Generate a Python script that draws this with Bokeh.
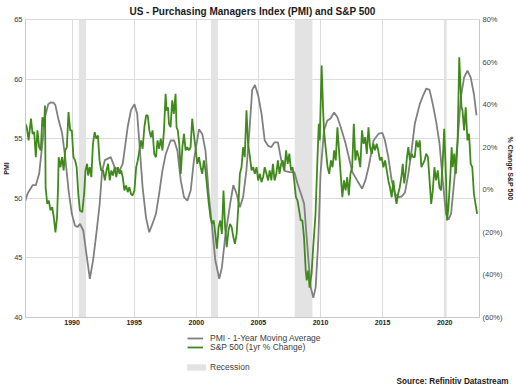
from bokeh.plotting import figure
from bokeh.layouts import column
from bokeh.models import Range1d, LinearAxis, FixedTicker, Legend, LegendItem
from bokeh.embed import file_html
from bokeh.resources import INLINE

# ---------------- data ----------------
pmi_year = [1986.24, 1986.42, 1986.82, 1987.08, 1987.35, 1987.61, 1987.82, 1988.08, 1988.3, 1988.53,
            1988.66, 1988.93, 1989.19, 1989.45, 1989.72, 1989.98, 1990.24, 1990.45, 1990.64, 1990.9,
            1991.16, 1991.43, 1991.69, 1991.95, 1992.22, 1992.42, 1992.64, 1993.11, 1993.43, 1993.82,
            1994.08, 1994.48, 1994.74, 1995.02, 1995.24, 1995.42, 1995.68, 1995.95, 1996.21, 1996.47,
            1996.75, 1997.01, 1997.27, 1997.54, 1997.93, 1998.22, 1998.48, 1998.75, 1999.01, 1999.28,
            1999.55, 1999.81, 2000.22, 2000.48, 2000.74, 2001.0, 2001.27, 2001.53, 2001.85, 2002.06,
            2002.32, 2002.72, 2002.98, 2003.24, 2003.51, 2003.77, 2004.03, 2004.3, 2004.5, 2004.72,
            2004.99, 2005.25, 2005.51, 2005.78, 2006.04, 2006.3, 2006.57, 2006.84, 2007.1, 2007.5,
            2007.89, 2008.16, 2008.42, 2008.68, 2008.82, 2009.03, 2009.21, 2009.42, 2009.61, 2009.82,
            2010.0, 2010.28, 2010.54, 2010.8, 2011.1, 2011.36, 2011.62, 2012.02, 2012.28, 2012.56,
            2012.95, 2013.35, 2013.61, 2013.87, 2014.27, 2014.66, 2014.98, 2015.19, 2015.46, 2015.73,
            2015.99, 2016.25, 2016.54, 2016.8, 2017.07, 2017.33, 2017.59, 2017.99, 2018.25, 2018.51,
            2018.78, 2019.04, 2019.3, 2019.58, 2019.84, 2020.1, 2020.3, 2020.51, 2020.77, 2021.04,
            2021.3, 2021.56, 2021.83, 2022.09, 2022.35, 2022.56]
pmi_value = [49.8, 50.4, 51.1, 51.1, 52.05, 54.6, 56.8, 57.9, 58.05, 58.0,
             57.8, 56.5, 55.5, 53.4, 50.65, 48.7, 47.7, 47.6, 47.85, 47.3,
             45.3, 43.25, 44.8, 47.0, 49.5, 52.3, 53.2, 53.45, 52.6, 52.3,
             52.9, 56.0, 57.4, 57.9, 57.1, 54.6, 50.9, 48.4, 47.15, 47.85,
             48.7, 50.4, 52.3, 53.7, 54.85, 54.85, 54.0, 51.5, 50.1, 49.8,
             50.65, 53.2, 55.8, 55.4, 54.0, 50.4, 47.6, 44.8, 43.25, 44.2,
             46.7, 49.5, 51.1, 50.4, 49.25, 50.1, 52.3, 56.0, 59.1, 59.5,
             58.6, 57.1, 54.85, 54.4, 54.3, 54.7, 54.7, 53.2, 52.3, 52.2,
             52.2, 51.2, 50.4, 49.55, 47.6, 44.8, 42.55, 41.65, 42.55, 46.45,
             52.05, 55.7, 56.5, 56.7, 57.2, 56.8, 56.0, 54.6, 53.45, 52.2,
             51.5, 50.8, 51.5, 52.6, 54.85, 55.4, 55.5, 54.85, 53.45, 51.5,
             50.4, 50.1, 50.15, 50.5, 52.05, 54.0, 56.25, 57.9, 58.6, 59.2,
             59.1, 57.9, 56.5, 54.6, 51.5, 48.7, 48.2, 48.7, 51.5, 54.85,
             58.5, 60.15, 60.7, 60.15, 58.75, 56.95]

spx_year = [1986.24, 1986.35, 1986.5, 1986.69, 1986.82, 1986.95, 1987.08, 1987.21, 1987.35, 1987.48,
            1987.61, 1987.74, 1987.82, 1987.87, 1988.0, 1988.13, 1988.26, 1988.4, 1988.53, 1988.66,
            1988.79, 1988.87, 1988.92, 1989.06, 1989.19, 1989.32, 1989.45, 1989.58, 1989.71, 1989.85,
            1989.98, 1990.11, 1990.24, 1990.37, 1990.5, 1990.63, 1990.82, 1990.97, 1991.08, 1991.21,
            1991.29, 1991.42, 1991.55, 1991.68, 1991.82, 1991.95, 1992.08, 1992.21, 1992.34, 1992.5,
            1992.64, 1992.77, 1992.9, 1993.03, 1993.16, 1993.29, 1993.43, 1993.56, 1993.69, 1993.82,
            1993.95, 1994.08, 1994.21, 1994.35, 1994.48, 1994.61, 1994.74, 1994.87, 1995.02, 1995.16,
            1995.29, 1995.42, 1995.55, 1995.68, 1995.82, 1995.96, 1996.09, 1996.22, 1996.35, 1996.48,
            1996.61, 1996.75, 1996.88, 1997.01, 1997.14, 1997.27, 1997.4, 1997.53, 1997.61, 1997.72,
            1997.8, 1997.93, 1998.06, 1998.19, 1998.33, 1998.41, 1998.51, 1998.63, 1998.75, 1998.88,
            1999.01, 1999.14, 1999.27, 1999.4, 1999.54, 1999.67, 1999.8, 1999.93, 2000.08, 2000.22,
            2000.35, 2000.48, 2000.61, 2000.74, 2000.87, 2001.01, 2001.14, 2001.27, 2001.4, 2001.53,
            2001.66, 2001.8, 2001.93, 2002.06, 2002.19, 2002.32, 2002.45, 2002.59, 2002.72, 2002.85,
            2002.98, 2003.11, 2003.25, 2003.38, 2003.51, 2003.64, 2003.77, 2003.9, 2004.04, 2004.17,
            2004.32, 2004.45, 2004.58, 2004.71, 2004.85, 2004.98, 2005.12, 2005.25, 2005.38, 2005.51,
            2005.65, 2005.78, 2005.91, 2006.04, 2006.17, 2006.3, 2006.44, 2006.57, 2006.7, 2006.83,
            2006.96, 2007.09, 2007.23, 2007.36, 2007.49, 2007.62, 2007.75, 2007.88, 2008.02, 2008.15,
            2008.28, 2008.41, 2008.54, 2008.67, 2008.81, 2008.89, 2009.02, 2009.12, 2009.28, 2009.41,
            2009.6, 2009.73, 2009.81, 2009.86, 2009.94, 2010.09, 2010.2, 2010.28, 2010.41, 2010.57,
            2010.7, 2010.84, 2010.97, 2011.1, 2011.23, 2011.36, 2011.49, 2011.62, 2011.76, 2011.89,
            2012.02, 2012.15, 2012.28, 2012.41, 2012.55, 2012.68, 2012.81, 2012.94, 2013.07, 2013.2,
            2013.34, 2013.47, 2013.6, 2013.73, 2013.86, 2013.99, 2014.13, 2014.26, 2014.39, 2014.52,
            2014.65, 2014.78, 2014.92, 2015.06, 2015.2, 2015.33, 2015.46, 2015.59, 2015.73, 2015.86,
            2015.99, 2016.12, 2016.25, 2016.38, 2016.51, 2016.62, 2016.74, 2016.85, 2016.96, 2017.07,
            2017.2, 2017.33, 2017.46, 2017.59, 2017.72, 2017.86, 2017.99, 2018.12, 2018.25, 2018.38,
            2018.51, 2018.65, 2018.78, 2018.91, 2019.04, 2019.17, 2019.3, 2019.44, 2019.57, 2019.7,
            2019.83, 2019.96, 2020.11, 2020.19, 2020.3, 2020.46, 2020.56, 2020.64, 2020.77, 2020.9,
            2021.04, 2021.17, 2021.25, 2021.35, 2021.43, 2021.56, 2021.69, 2021.83, 2021.96, 2022.09,
            2022.22, 2022.35, 2022.48, 2022.61]
spx_change = [31.0, 29.4, 23.2, 33.4, 26.3, 27.1, 15.3, 27.9, 20.0, 18.5,
              34.1, 29.4, 39.6, 1.2, -6.6, -5.1, -9.7, -8.2, -12.9, -20.0,
              -12.9, 1.2, 15.3, 10.6, 15.3, 9.1, 18.5, 20.0, 36.5, 27.9,
              27.9, 15.3, 13.8, 10.6, -1.9, -9.7, -10.5, -1.9, 9.1, 12.2,
              6.7, 10.6, 5.9, 21.6, 27.1, 24.0, 25.5, 13.8, 9.1, 9.1,
              4.4, 9.1, 12.2, 4.4, 9.1, 6.7, 10.6, 5.9, 10.6, 7.5,
              9.1, 5.9, -0.3, 2.0, -1.1, 1.2, -1.9, -2.7, -0.3, 10.6,
              13.8, 18.5, 23.2, 19.3, 29.4, 34.9, 34.9, 27.9, 24.7, 27.9,
              16.9, 15.3, 23.2, 19.3, 24.0, 18.5, 27.9, 45.1, 37.3, 38.8,
              31.0, 29.4, 42.0, 35.7, 45.1, 29.4, 27.9, 21.6, 7.5, 20.0,
              26.3, 18.5, 20.0, 18.5, 20.0, 33.4, 26.3, 20.0, 12.2, 15.3,
              10.6, 7.5, 13.8, 9.1, 1.2, -6.6, -12.9, -16.0, -14.4, -20.7,
              -27.7, -17.5, -14.4, -20.7, -0.3, -17.5, -27.0, -19.1, -16.0, -17.5,
              -22.2, -25.4, -20.7, -8.2, 7.5, 10.6, 20.0, 15.3, 37.3, 21.6,
              15.3, 9.1, 10.6, 7.5, 10.6, 4.4, 7.5, 3.6, 6.0, 10.6,
              7.5, 4.4, 9.1, 4.4, 12.2, 4.4, 7.5, 13.8, 7.5, 12.2,
              13.8, 9.1, 18.5, 12.2, 17.0, 9.1, 10.6, 4.4, -3.5, -5.1,
              -9.7, -14.4, -14.4, -22.2, -37.9, -42.6, -37.9, -46.0, -39.4, -27.0,
              -11.3, 10.6, 23.2, 31.0, 23.2, 58.4, 38.8, 27.9, 20.0, 10.6,
              7.5, 13.8, 10.6, 18.5, 13.8, 29.4, 18.5, 7.5, -3.5, 4.4,
              -0.3, 5.9, -2.7, 7.5, 10.6, 31.0, 13.8, 18.5, 15.3, 10.6,
              27.9, 21.6, 24.7, 16.9, 29.4, 20.0, 16.9, 21.6, 18.5, 21.6,
              18.5, 13.8, 15.3, 10.6, 13.8, 9.1, 4.4, 1.2, -3.5, 4.4,
              -1.9, -6.6, -1.9, 1.2, 5.9, 12.2, 3.0, 8.0, 15.3, 20.0,
              13.8, 17.0, 15.3, 15.3, 23.2, 20.0, 23.2, 10.6, 12.2, 13.8,
              17.0, 15.3, 4.4, -6.6, -0.3, 10.6, 4.4, 9.1, 1.2, -0.3,
              12.2, 28.7, 4.4, -14.4, -8.2, 7.5, 20.0, 10.6, 17.0, 7.5,
              23.2, 62.3, 51.3, 38.8, 37.3, 27.9, 38.8, 23.2, 26.3, 12.2,
              10.6, -1.9, -6.6, -11.3]

rec_start = [1990.54, 2001.18, 2007.92, 2019.93]
rec_end = [1991.13, 2001.75, 2009.35, 2020.16]

year_ticks = [1990, 1995, 2000, 2005, 2010, 2015, 2020]
pmi_ticks = [40, 45, 50, 55, 60, 65]
pct_ticks = [-60, -40, -20, 0, 20, 40, 60, 80]
pct_tick_labels = ["(60%)", "(40%)", "(20%)", "0%", "20%", "40%", "60%", "80%"]

title_text = "US - Purchasing Managers Index (PMI) and S&P 500"
left_label = "PMI"
right_label = "% Change S&P 500"
pmi_name = "PMI - 1-Year Moving Average"
spx_name = "S&P 500 (1yr % Change)"
rec_name = "Recession"
source_text = "Source: Refinitiv Datastream"

FONT = "Liberation Sans"
GRAY = "#808080"
GREEN = "#3f8a1b"
REC = "#e3e3e3"
W = 516
H_MAIN, H_LEG = 332, 54
BL, BR = 21, 34

# ---------------- main chart ----------------
p = figure(width=W, height=H_MAIN, output_backend="svg", toolbar_location=None,
           x_range=Range1d(1986.25, 2022.8), y_range=Range1d(pmi_ticks[0], pmi_ticks[-1]),
           min_border_left=BL, min_border_right=BR, min_border_top=0, min_border_bottom=15)
p.background_fill_color = "white"
p.border_fill_color = "white"
p.outline_line_color = "#d9d9d9"

p.title.text = title_text
p.title.align = "center"
p.title.text_font = FONT
p.title.text_font_style = "bold"
p.title.text_font_size = "10px"
p.title.text_color = "#1a1a1a"
p.title.standoff = 6

xax = p.below[0]
yax = p.left[0]
p.extra_y_ranges = {"pct": Range1d(pct_ticks[0], pct_ticks[-1])}
rax = LinearAxis(y_range_name="pct", ticker=FixedTicker(ticks=pct_ticks),
                 major_label_overrides=dict(zip(pct_ticks, pct_tick_labels)))
p.add_layout(rax, "right")

xax.ticker = FixedTicker(ticks=year_ticks)
yax.ticker = FixedTicker(ticks=pmi_ticks)
p.xgrid.ticker = FixedTicker(ticks=year_ticks)
p.ygrid.ticker = FixedTicker(ticks=pmi_ticks)
p.xgrid.grid_line_color = "#dcdcdc"
p.ygrid.grid_line_color = "#dcdcdc"

for ax in [xax, yax, rax]:
    ax.major_tick_in = 0
    ax.major_tick_out = 0
    ax.minor_tick_line_color = None
    ax.axis_line_color = "#c8c8c8"
    ax.major_label_text_font = FONT
    ax.major_label_text_font_size = "7.5px"
    ax.major_label_standoff = 3
    ax.axis_label_text_font = FONT
    ax.axis_label_text_font_style = "bold"
    ax.axis_label_text_font_size = "7px"
    ax.axis_label_text_color = "#1a1a1a"
    ax.axis_label_standoff = 1
xax.major_label_text_color = "#222222"
xax.major_label_text_font_style = "bold"
xax.major_label_text_font_size = "7px"
xax.major_label_standoff = 2
yax.major_label_text_color = "#333344"
rax.major_label_text_color = "#444444"
yax.axis_label = left_label
rax.axis_label = right_label

p.quad(left=rec_start, right=rec_end, bottom=pmi_ticks[0], top=pmi_ticks[-1],
       fill_color=REC, line_color=None)
p.line(pmi_year, pmi_value, line_color=GRAY, line_width=1.8)
p.line(spx_year, spx_change, y_range_name="pct", line_color=GREEN, line_width=1.8)

# ---------------- legend / source strip ----------------
# ranges are pixel-like; the series drawn here fall outside them and only feed the legend swatches
f2 = figure(width=W, height=H_LEG, output_backend="svg", toolbar_location=None,
            x_range=Range1d(0, W - BL - BR), y_range=Range1d(0, H_LEG),
            min_border_left=BL, min_border_right=BR, min_border_top=0, min_border_bottom=0,
            x_axis_type=None, y_axis_type=None,
            title=source_text, title_location="below")
f2.outline_line_color = None
f2.background_fill_color = "white"
f2.border_fill_color = "white"
f2.title.align = "right"
f2.title.offset = -29
f2.title.standoff = 1
f2.title.text_font = FONT
f2.title.text_font_style = "bold"
f2.title.text_font_size = "8.2px"
f2.title.text_color = "#1a1a1a"

g1 = f2.line(pmi_year, pmi_value, line_color=GRAY, line_width=1.8)
g2 = f2.line(spx_year, spx_change, line_color=GREEN, line_width=1.8)
g3 = f2.quad(left=rec_start, right=rec_end, bottom=pmi_ticks[0], top=pmi_ticks[-1],
             fill_color=REC, line_color=None)

common = dict(orientation="vertical", spacing=0, padding=0, margin=0,
              border_line_color=None, background_fill_alpha=0,
              label_text_font=FONT, label_text_font_size="8.5px", label_text_color="#404040")
lg1 = Legend(items=[LegendItem(label=pmi_name, renderers=[g1])], location=(162, 31),
             glyph_width=16, glyph_height=10, label_height=10, label_standoff=7, **common)
lg2 = Legend(items=[LegendItem(label=spx_name, renderers=[g2])], location=(162, 22),
             glyph_width=16, glyph_height=10, label_height=10, label_standoff=7, **common)
lg3 = Legend(items=[LegendItem(label=rec_name, renderers=[g3])], location=(159, 2),
             glyph_width=24, glyph_height=8, label_height=10, label_standoff=2, **common)
f2.add_layout(lg1)
f2.add_layout(lg2)
f2.add_layout(lg3)

layout = column(p, f2, spacing=0)
open("out.html", "w").write(file_html(layout, INLINE))
